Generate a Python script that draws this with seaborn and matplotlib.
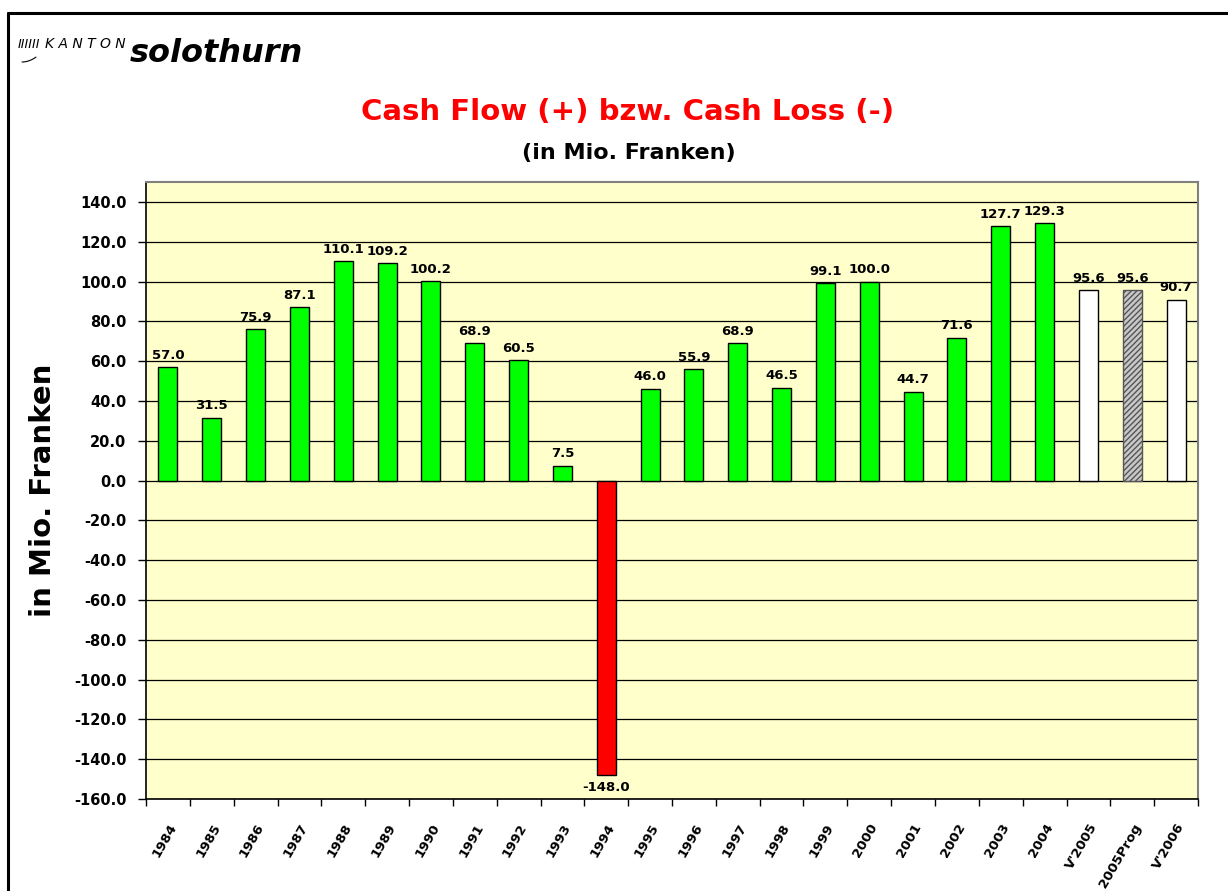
import matplotlib
matplotlib.use("Agg")
import matplotlib.pyplot as plt
import seaborn as sns
import numpy as np
import pandas as pd
from matplotlib.lines import Line2D
from matplotlib.ticker import FixedLocator, FormatStrFormatter

categories = ["1984", "1985", "1986", "1987", "1988", "1989", "1990", "1991", "1992",
              "1993", "1994", "1995", "1996", "1997", "1998", "1999", "2000", "2001",
              "2002", "2003", "2004", "V'2005", "2005Prog", "V'2006"]
values = [57.0, 31.5, 75.9, 87.1, 110.1, 109.2, 100.2, 68.9, 60.5, 7.5, -148.0, 46.0,
          55.9, 68.9, 46.5, 99.1, 100.0, 44.7, 71.6, 127.7, 129.3, 95.6, 95.6, 90.7]
bar_colors = ["#00FF00"] * 10 + ["#FF0000"] + ["#00FF00"] * 10 + ["#FFFFFF", "#C8C8C8", "#FFFFFF"]

sns.set_theme(style="white")
plt.rcParams['font.family'] = ['DejaVu Sans']
plt.rcParams['text.color'] = 'black'
plt.rcParams['axes.labelcolor'] = 'black'
plt.rcParams['xtick.color'] = 'black'
plt.rcParams['ytick.color'] = 'black'
plt.rcParams['hatch.color'] = '#909090'

fig = plt.figure(figsize=(12.28, 8.91), dpi=100)
ax = fig.add_axes([146/1228, 1-799/891, (1198-146)/1228, (799-182)/891])
ax.set_facecolor("#FFFFCC")

df = pd.DataFrame({"cat": categories, "val": values})
sns.barplot(data=df, x="cat", y="val", hue="cat", palette=bar_colors, legend=False,
            width=0.43, edgecolor="black", linewidth=1.0, saturation=1, ax=ax, zorder=3)

for i, p in enumerate(ax.patches):
    if categories[i] == "2005Prog":
        p.set_hatch("//////")
        p.set_edgecolor("#555555")

ax.set_ylim(-160, 150)
ax.set_xlim(-0.5, len(categories) - 0.5)
ax.yaxis.set_major_locator(FixedLocator(np.arange(-160, 141, 20)))
ax.yaxis.set_major_formatter(FormatStrFormatter("%.1f"))
ax.grid(axis="y", color="black", linewidth=0.9, zorder=0)
ax.set_axisbelow(True)

ax.tick_params(axis="y", which="major", left=True, length=6, width=1, color="black",
               labelsize=10.5, pad=8, labelcolor="black")
for lab in ax.get_yticklabels():
    lab.set_fontweight("bold")

ax.set_xticks(range(len(categories)))
ax.set_xticklabels(categories, rotation=60, ha="right", rotation_mode="anchor",
                   fontsize=9.5, fontweight="bold", color="black")
ax.tick_params(axis="x", which="major", bottom=False, pad=10)
ax.xaxis.set_minor_locator(FixedLocator(np.arange(-0.5, len(categories), 1.0)))
ax.tick_params(axis="x", which="minor", bottom=True, length=5, width=1, color="black")

ax.set_xlabel("")
ax.set_ylabel("in Mio. Franken", fontsize=21, fontweight="bold", color="black")
ax.yaxis.set_label_coords((57 - 146) / (1198 - 146), 0.5)

for side in ["left", "bottom"]:
    ax.spines[side].set_color("black")
    ax.spines[side].set_linewidth(1.2)
for side in ["top", "right"]:
    ax.spines[side].set_color("#808080")
    ax.spines[side].set_linewidth(1.5)

for i, v in enumerate(values):
    if v >= 0:
        ax.annotate(f"{v:.1f}", (i, v), xytext=(0, 4), textcoords="offset points",
                    ha="center", va="bottom", fontsize=9.5, fontweight="bold", zorder=5,
                    color="black")
    else:
        ax.annotate(f"{v:.1f}", (i, v), xytext=(0, -4), textcoords="offset points",
                    ha="center", va="top", fontsize=9.5, fontweight="bold", zorder=5,
                    color="black")

fig.text(628/1228, 1-112/891, "Cash Flow (+) bzw. Cash Loss (-)", color="#FF0000",
         fontsize=21, fontweight="bold", ha="center", va="center")
fig.text(629/1228, 1-153/891, "(in Mio. Franken)", color="black",
         fontsize=16, fontweight="bold", ha="center", va="center")

# logo
fig.text(18/1228, 1-44/891, "IIIIII", fontsize=9, style="italic", ha="left", va="center")
fig.text(45/1228, 1-44/891, "K A N T O N", fontsize=10, style="italic", ha="left", va="center")
fig.text(130/1228, 1-53/891, "solothurn", fontsize=23, style="italic", fontweight="bold",
         ha="left", va="center", color="black")
xs = np.linspace(22, 36, 20)
ys = 62 - 0.025 * (xs - 22) ** 2
fig.add_artist(Line2D(xs/1228, 1-ys/891, color="black", linewidth=0.8))

# page border (top and left)
fig.add_artist(Line2D([8/1228, 1.0], [1-13/891, 1-13/891], color="black", linewidth=2.2))
fig.add_artist(Line2D([8/1228, 8/1228], [1-13/891, 0.0], color="black", linewidth=2.2))

fig.savefig("out.png", dpi=100, facecolor="white")
